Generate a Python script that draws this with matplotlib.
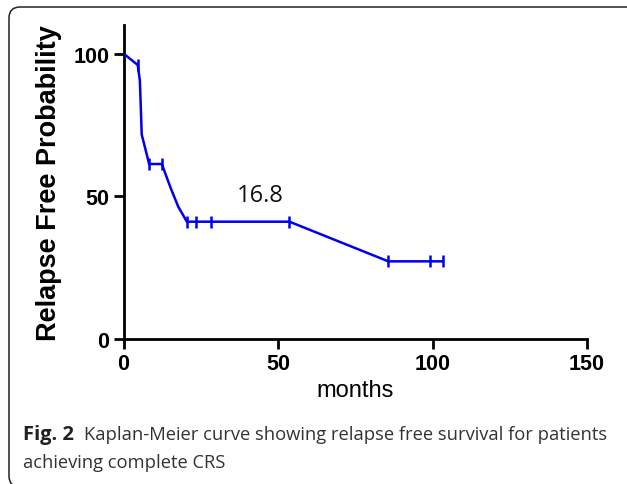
import matplotlib
matplotlib.use("Agg")
import matplotlib.pyplot as plt
from matplotlib.patches import FancyBboxPatch

# Data
times = [0, 4.6, 5.3, 5.9, 7.0, 8.3, 12.4, 15.3, 17.7, 20.5, 23.4, 28.3, 53.7, 85.7, 99.2, 103.3]
surv = [100, 96, 90.5, 71.6, 66.9, 61.3, 61.3, 52.8, 46.4, 41.1, 41.1, 41.1, 41.1, 27.2, 27.2, 27.2]
censor_t = [4.6, 8.3, 12.4, 20.5, 23.4, 28.3, 53.7, 85.7, 99.2, 103.3]
censor_s = [96, 61.3, 61.3, 41.1, 41.1, 41.1, 41.1, 27.2, 27.2, 27.2]
xticks = [0, 50, 100, 150]
yticks = [0, 50, 100]
median_label = "16.8"

W, H = 627, 485
fig = plt.figure(figsize=(W / 100, H / 100), dpi=100)

# rounded frame (right and bottom edges run off the canvas)
frame = FancyBboxPatch((0.09, -0.03), 6.5, 4.80,
                       boxstyle="round,pad=0,rounding_size=0.11",
                       transform=fig.dpi_scale_trans, fill=False,
                       edgecolor="#222222", linewidth=1.1)
fig.patches.append(frame)

ax = fig.add_axes([123.5 / W, 145 / H, (587 - 123.5) / W, (340 - 26) / H])
ax.plot(times, surv, color="#0000ee", linewidth=1.8, zorder=3)
ax.plot(censor_t, censor_s, linestyle="none", marker="|", markersize=9,
        markeredgewidth=1.8, color="#0000ee", zorder=3)
ax.text(44.2, 50.3, median_label, fontsize=17, ha="center", va="center",
        family="Open Sans", color="#111111")

ax.set_xlim(0, 150)
ax.set_ylim(0, 110)
ax.set_xticks(xticks)
ax.set_yticks(yticks)
for s in ["top", "right"]:
    ax.spines[s].set_visible(False)
for s in ["left", "bottom"]:
    ax.spines[s].set_linewidth(2.0)
ax.tick_params(width=2.0, length=7, labelsize=15.5, pad=3)
for lab in ax.get_xticklabels() + ax.get_yticklabels():
    lab.set_fontweight("bold")
    lab.set_family("Liberation Sans")
ax.set_xlabel("months", fontsize=17, family="Liberation Sans", labelpad=4)
ax.set_ylabel("Relapse Free Probability", fontsize=19.5, fontweight="bold",
              family="Liberation Sans", labelpad=8)

fig.text(23 / W, 1 - 435 / H, "Fig. 2", fontsize=14.5, va="center",
         family="Open Sans", fontweight="bold", color="#222222")
fig.text(84 / W, 1 - 435 / H,
         "Kaplan-Meier curve showing relapse free survival for patients",
         fontsize=13.2, va="center", family="Open Sans", color="#333333")
fig.text(23 / W, 1 - 463 / H, "achieving complete CRS", fontsize=13.2,
         va="center", family="Open Sans", color="#333333")

fig.savefig("out.png", dpi=100)
